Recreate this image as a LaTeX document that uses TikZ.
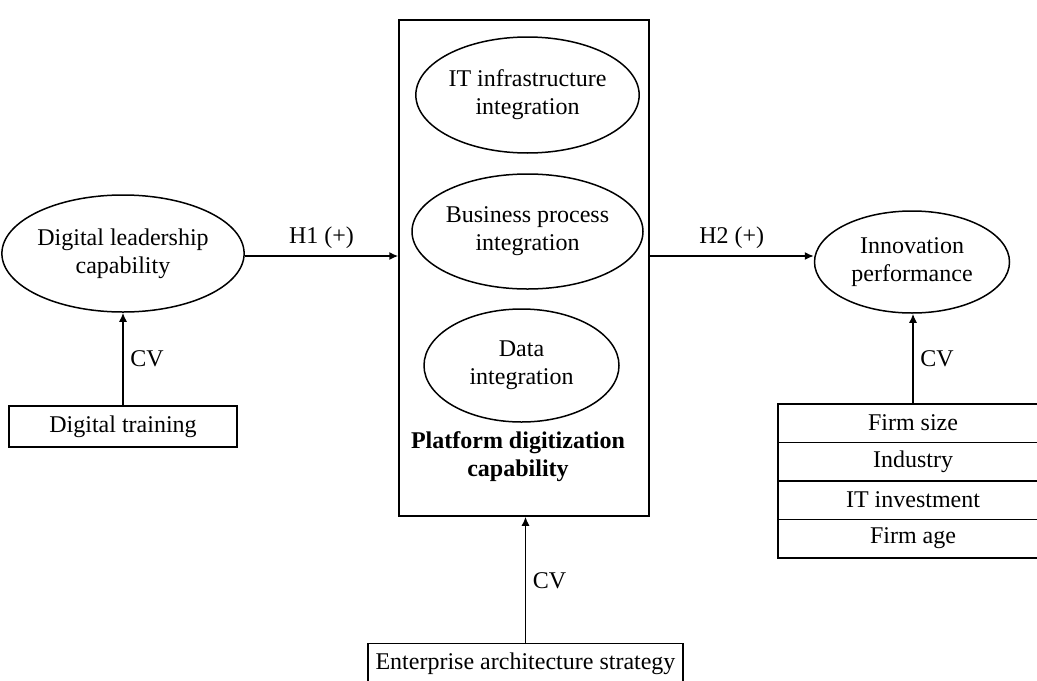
\documentclass[tikz,border=0pt]{standalone}
\usepackage{fontspec}
\setmainfont{Liberation Serif}
\usetikzlibrary{shapes.geometric,positioning,arrows.meta}

\begin{document}
\begin{tikzpicture}[x=0.5pt,y=-0.5pt,line width=0.75pt,
	font=\fontsize{12}{14}\selectfont,
	construct/.style={draw,ellipse,align=center,inner sep=0pt},
	ctrlbox/.style={draw,rectangle,minimum height=20.5pt,inner sep=0pt},
	cvrow/.style={draw,rectangle,minimum width=135pt,minimum height=19.25pt,inner sep=0pt},
	link/.style={-{Latex[length=4.5pt,width=4pt]}}]

	\clip (0,0) rectangle (1037,680);

	% platform digitization capability
	\node[draw,minimum width=125pt,minimum height=248pt,inner sep=0pt] (pdc) at (524,268) {};
	\node[construct,minimum width=97.5pt,minimum height=58pt] (iti) at (527.5,95) {IT infrastructure\\integration};
	\node[construct,minimum width=94.5pt,minimum height=57.5pt] (bpi) at (527.5,231.5) {Business process\\integration};
	\node[construct,minimum width=97.5pt,minimum height=56.5pt] (dai) at (521.5,365.5) {Data\\integration};
	\node[align=center,font=\fontsize{12}{14}\selectfont\bfseries] (pdclabel) at (518,457) {Platform digitization\\capability};

	% left and right constructs
	\node[construct,minimum width=98pt,minimum height=58.5pt] (dlc) at (123,253.5) {Digital leadership\\capability};
	\node[construct,minimum width=97.5pt,minimum height=51pt] (inp) at (912,262) {Innovation\\performance};

	% control variables
	\node[ctrlbox,minimum width=114pt] (dtr) at (123,426.5) {Digital training};
	\node[ctrlbox,minimum width=157.5pt] (eas) at (525.5,664) {Enterprise architecture strategy};

	\node[cvrow] (fsz) at (913,423) {Firm size};
	\node[cvrow,below=-0.75pt of fsz] (ind) {Industry};
	\node[cvrow,below=-0.75pt of ind] (itv) {IT investment};
	\node[cvrow,below=-0.75pt of itv] (fag) {Firm age};

	% hypotheses
	\draw[link] (dlc.east |- 0,256) -- (pdc.west |- 0,256) node[midway,above] {H1 (+)};
	\draw[link] (pdc.east |- 0,256) -- (inp.west |- 0,256) node[midway,above] {H2 (+)};

	% CV paths
	\draw[link] (dtr.north) -- (dlc.south) node[midway,right] {CV};
	\draw[link] (eas.north |- 0,644) -- (eas.north |- pdc.south) node[midway,right] {CV};
	\draw[link] (fsz.north) -- (fsz.north |- inp.south) node[midway,right] {CV};

\end{tikzpicture}
\end{document}
